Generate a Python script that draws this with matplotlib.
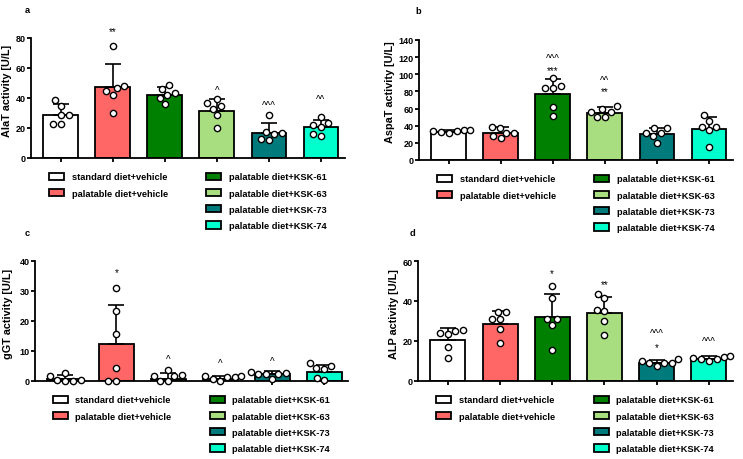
import matplotlib
matplotlib.use('Agg')
import matplotlib.pyplot as plt
from matplotlib.patches import Patch
import pandas as pd
import seaborn as sns

plt.rcParams['font.family'] = ['Liberation Sans', 'DejaVu Sans']

# groups and colours
groups = ["standard diet+vehicle", "palatable diet+vehicle", "palatable diet+KSK-61",
          "palatable diet+KSK-63", "palatable diet+KSK-73", "palatable diet+KSK-74"]
colors = ["#ffffff", "#ff6666", "#008000", "#a8de80", "#007a7a", "#00ffcc"]

# panel a - AlaT
alat_mean = [28.9, 47.6, 42.2, 31.3, 16.7, 20.4]
alat_sd = [7.1, 15.1, 5.4, 8.0, 6.6, 5.2]
alat_pts = [[38.5, 35, 29, 29, 22.5, 23],
            [75, 45, 48, 46.5, 42, 30],
            [49, 43.5, 46, 36, 40, 42],
            [39.5, 35, 36.5, 33, 28.5, 20],
            [28.5, 16, 17.5, 16.5, 12, 13],
            [27.5, 22, 23.5, 21, 15, 16]]
alat_marks = [(1, "**", 86), (3, "^", 47), (4, "^^^", 37), (5, "^^", 41)]

# panel b - AspaT
aspat_mean = [33.2, 31.6, 76.8, 55.4, 30.8, 36.7]
aspat_sd = [1.8, 7.0, 17.6, 6.6, 7.0, 13.6]
aspat_pts = [[35.5, 34, 32, 32.5, 33.5, 35.5],
             [32, 37, 38, 32, 25.5, 28],
             [95.5, 86.5, 84.5, 84.5, 62, 51.5],
             [62.5, 59, 56, 56.5, 50.5, 50.5],
             [37.5, 32, 28, 20, 32, 37.5],
             [52.5, 45.5, 39, 39, 35, 15.5]]
aspat_marks = [(2, "***", 107), (2, "^^^", 122), (3, "**", 82.7), (3, "^^", 95.5)]

# panel c - gGT
ggt_mean = [0.6, 12.2, 0.8, 0.8, 2.2, 3.1]
ggt_sd = [1.5, 13.2, 1.9, 0.9, 1.1, 2.2]
ggt_pts = [[1.8, 2.7, 0.1, 0.2, 0.2, 0.1],
           [31, 23.5, 15.8, 4.3, 0, 0],
           [3.6, 1.9, 1.7, 1.7, 0, 0],
           [1.6, 1.3, 0, 1.4, 1.6, 0.6],
           [2.5, 2.5, 2.5, 2.6, 3.1, 0.8],
           [5.9, 5.0, 4.5, 3.9, 0.3, 1.1]]
ggt_marks = [(1, "*", 37), (2, "^", 8.1), (3, "^", 6.7), (4, "^", 7.4)]

# panel d - ALP
alp_mean = [20.5, 28.7, 32.0, 34.2, 8.8, 11.2]
alp_sd = [5.8, 6.3, 11.3, 8.0, 1.5, 1.3]
alp_pts = [[25, 23.3, 23.8, 25.3, 17.2, 11.7],
           [34.5, 34.5, 30.8, 30.8, 25.8, 18.8],
           [47.5, 41.7, 30.8, 30.8, 27.8, 15.5],
           [43.3, 41.3, 35.5, 35, 30, 22.8],
           [10, 9.2, 7.5, 9.2, 10.8, 8.8],
           [12.2, 10, 10.8, 10.8, 12.5, 11.5]]
alp_marks = [(2, "*", 55), (3, "**", 49.5), (4, "*", 18.3), (4, "^^^", 25.3), (5, "^^^", 21.3)]

bold = {'weight': 'bold', 'size': 6.7}


def panel(ax, letter, ylabel, means, sds, pts, marks, ymax, ystep, label_x):
    x = list(range(len(groups)))
    ax.bar(x, means, width=0.67, color=colors, edgecolor='black', linewidth=1.3, zorder=1)
    ax.errorbar(x, means, yerr=[[0] * len(sds), sds], fmt='none', ecolor='black',
                elinewidth=1.2, capsize=6, capthick=1.2, zorder=2)

    df = pd.DataFrame({'group': [g for g, p in zip(groups, pts) for _ in p],
                       'value': [v for p in pts for v in p]})
    n_before = len(ax.collections)
    sns.swarmplot(data=df, x='group', y='value', order=groups, ax=ax, size=4.5,
                  color='white', edgecolor='black', linewidth=1.0, zorder=3)
    for coll in ax.collections[n_before:]:
        coll.set_clip_on(False)

    for i, txt, y in marks:
        ax.annotate(txt, (i, y), xytext=(0, -3.8), textcoords='offset points',
                    ha='center', va='baseline', fontsize=7, annotation_clip=False)

    ax.set_xlim(-0.57, 5.46)
    ax.set_ylim(0, ymax)
    ax.set_yticks(range(0, ymax + 1, ystep))
    ax.set_xticks(x)
    ax.set_xticklabels([])
    ax.set_xlabel('')
    ax.set_ylabel(ylabel, fontdict={'weight': 'bold', 'size': 7.8})
    ax.yaxis.set_label_coords(label_x, 0.57)
    for lab in ax.get_yticklabels():
        lab.set_fontweight('bold')
        lab.set_fontsize(6.5)
    ax.tick_params(direction='out', length=3, width=1.3, pad=0.8)
    ax.spines['top'].set_visible(False)
    ax.spines['right'].set_visible(False)
    ax.spines['left'].set_linewidth(1.3)
    ax.spines['bottom'].set_linewidth(1.3)

    handles = [Patch(facecolor=c, edgecolor='black', linewidth=1.3) for c in colors]
    kw = dict(frameon=False, prop=bold, loc='upper left', borderpad=0, borderaxespad=0,
              handlelength=1.6, handleheight=0.8, handletextpad=0.8, labelspacing=0.78)
    leg1 = ax.legend(handles[:2], groups[:2], bbox_to_anchor=(0.058, -0.12), **kw)
    ax.add_artist(leg1)
    ax.legend(handles[2:], groups[2:], bbox_to_anchor=(0.558, -0.12), **kw)

    ax.text(-0.1, 1.0, letter, transform=ax.transAxes, fontdict=bold)


fig = plt.figure(figsize=(7.43, 4.6), dpi=100)
ax_a = fig.add_axes([31 / 743, 1 - 159 / 460, 314 / 743, 120 / 460])
ax_b = fig.add_axes([419 / 743, 1 - 161 / 460, 314 / 743, 120 / 460])
ax_c = fig.add_axes([35 / 743, 1 - 382 / 460, 313 / 743, 120 / 460])
ax_d = fig.add_axes([418 / 743, 1 - 382 / 460, 315 / 743, 120 / 460])

panel(ax_a, 'a', 'AlaT activity [U/L]', alat_mean, alat_sd, alat_pts, alat_marks, 80, 20, -0.06)
panel(ax_b, 'b', 'AspaT activity [U/L]', aspat_mean, aspat_sd, aspat_pts, aspat_marks, 140, 20, -0.076)
panel(ax_c, 'c', 'gGT activity [U/L]', ggt_mean, ggt_sd, ggt_pts, ggt_marks, 40, 10, -0.07)
panel(ax_d, 'd', 'ALP activity [U/L]', alp_mean, alp_sd, alp_pts, alp_marks, 60, 20, -0.06)

# panel letters sit at the top left of each block
for ax, (fx, fy) in zip([ax_a, ax_b, ax_c, ax_d], [(25, 13), (415, 14), (25, 236), (410, 236)]):
    ax.texts[-1].set_transform(fig.transFigure)
    ax.texts[-1].set_position((fx / 743, 1 - fy / 460))

fig.savefig('out.png', dpi=100)
